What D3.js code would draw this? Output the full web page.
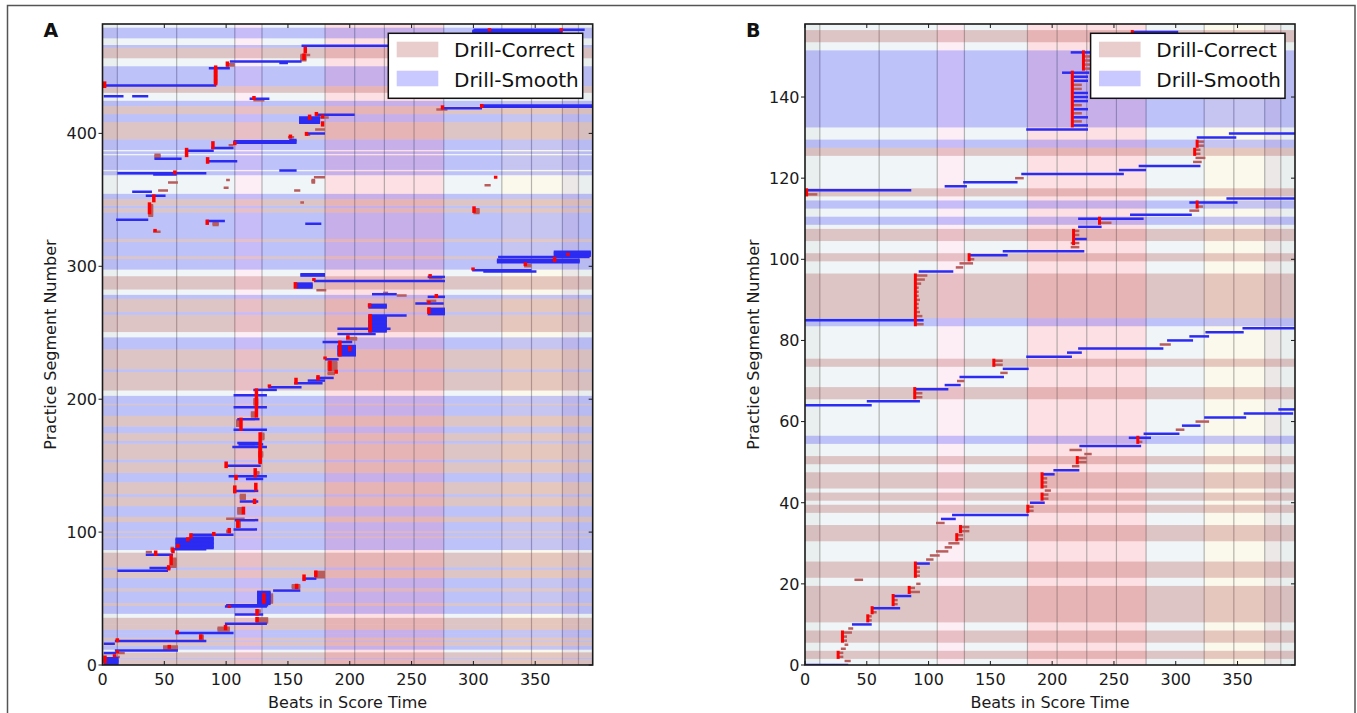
<!DOCTYPE html>
<html><head><meta charset="utf-8">
<script src="https://cdn.jsdelivr.net/npm/d3@7"></script>
<style>
body{margin:0;background:#fff;}
svg{display:block;}
text{font-family:"DejaVu Sans",sans-serif;}
</style>
</head><body>
<svg id="fig" width="1357" height="713"></svg>
<script>
// ---------- shared axis data ----------
const beatTicks = [0, 50, 100, 150, 200, 250, 300, 350];
const beatMax = 396.5;
// section boundaries of the score, in beats
const sectionBeats = [12, 60, 107, 129, 180, 204, 228, 252, 276, 323, 347, 372, 385];
// per-section background tint ranges (beats)
const tintFrom = [0, 12, 107, 129, 180, 276, 323, 372, 385];
const tintTo   = [12, 107, 129, 180, 276, 323, 372, 385, 396.5];
const tintKind = ["g", "w", "p", "w", "r", "w", "y", "q", "g"];
const legendLabels = ["Drill-Correct", "Drill-Smooth"];

// ---------- panel A ----------
const rowsA = 482.3;
const yTicksA = [0, 100, 200, 300, 400];
// practice-mode bands: [firstSegment, lastSegment, mode]  c = Drill-Correct, s = Drill-Smooth
const bandsA = [
  [0,4,"c"],[5,5,"s"],[6,9,"c"],[12,14,"s"],[15,17,"c"],[18,18,"s"],[19,20,"c"],[21,23,"s"],[24,26,"s"],
  [27,30,"c"],[31,35,"c"],[39,44,"s"],[45,46,"c"],[47,55,"s"],[56,57,"c"],[58,65,"s"],[66,71,"c"],
  [72,73,"s"],[74,84,"c"],[87,95,"s"],[96,96,"c"],[97,99,"s"],[100,100,"c"],[101,107,"s"],[108,111,"c"],
  [112,119,"s"],[120,126,"c"],[127,128,"s"],[129,137,"c"],[138,144,"s"],[145,152,"c"],[153,154,"s"],
  [155,166,"c"],[167,168,"s"],[169,174,"c"],[175,179,"s"],[180,187,"c"],[188,195,"s"],[196,196,"c"],
  [197,202,"s"],[207,220,"c"],[221,222,"s"],[223,237,"c"],[238,246,"s"],[251,263,"c"],[264,265,"s"],
  [266,275,"c"],[276,278,"s"],[283,292,"c"],[298,305,"s"],[306,307,"c"],[308,318,"s"],[319,320,"c"],
  [321,340,"s"],[341,343,"c"],[344,345,"s"],[346,350,"c"],[351,354,"s"],[369,371,"s"],[373,375,"s"],
  [376,383,"s"],[385,386,"s"],[388,395,"s"],[396,408,"c"],[409,414,"s"],[415,420,"c"],[421,424,"s"],
  [431,435,"c"],[436,450,"s"],[457,464,"c"],[465,466,"s"],[472,475,"s"],[476,479,"s"]
];
// practice segments: [firstSegment, lastSegment, startBeat, endBeat, kind]  b = played through, r = short repair
const segsA = [
  [1,5,1,13,"b"],[6,6,9,14,"r"],[9,9,1,11,"b"],[9,9,11,18,"r"],[11,11,10,61,"b"],[12,14,49,61,"r"],
  [16,16,1,10,"b"],[18,18,10,84,"b"],[19,22,78,82,"r"],[24,24,59,106,"b"],[26,28,93,103,"r"],
  [31,31,99,133,"b"],[32,35,124,134,"r"],[38,38,107,130,"b"],[40,41,124,128,"r"],[44,44,99,133,"b"],
  [45,45,100,134,"b"],[46,55,125,136,"b"],[47,53,131,138,"r"],[56,56,138,160,"b"],[58,60,153,160,"r"],
  [65,65,162,173,"b"],[66,70,172,180,"r"],[71,71,12,53,"b"],[73,73,38,55,"b"],[74,80,55,60,"r"],
  [83,83,35,57,"b"],[85,85,35,40,"r"],[86,88,55,58,"r"],[87,87,58,84,"b"],[88,95,59,90,"b"],
  [96,96,72,90,"b"],[98,98,71,106,"b"],[100,101,100,104,"r"],[102,102,106,125,"b"],[104,108,108,112,"r"],
  [109,109,107,126,"b"],[110,110,100,115,"r"],[114,118,109,113,"r"],[123,123,111,126,"b"],
  [125,128,111,116,"r"],[131,131,106,126,"b"],[140,140,116,130,"b"],[142,142,102,133,"b"],
  [144,145,123,127,"r"],[150,150,99,128,"b"],[157,160,126,130,"r"],[164,164,105,133,"b"],
  [166,166,110,130,"b"],[167,167,109,127,"b"],[170,174,127,131,"r"],[177,177,106,133,"b"],
  [180,184,108,112,"r"],[185,185,109,127,"b"],[187,190,120,124,"r"],[194,194,106,133,"b"],
  [196,200,122,126,"r"],[203,203,106,133,"b"],[207,207,122,141,"b"],[209,209,134,161,"b"],
  [212,212,155,178,"b"],[214,214,166,180,"b"],[216,216,173,187,"b"],[219,220,182,188,"r"],
  [222,228,182,190,"r"],[230,230,180,191,"b"],[233,240,190,205,"b"],[243,243,178,202,"b"],
  [245,246,197,206,"r"],[249,249,190,221,"b"],[251,262,215,230,"b"],[253,253,190,233,"b"],
  [263,263,215,246,"b"],[264,268,263,277,"b"],[269,271,215,230,"b"],[272,272,253,276,"b"],
  [274,274,262,270,"r"],[277,277,263,277,"b"],[278,278,238,246,"r"],[279,279,218,238,"b"],
  [280,280,227,231,"r"],[282,282,173,181,"r"],[284,287,157,170,"b"],[285,286,160,165,"r"],
  [289,289,171,277,"b"],[291,291,264,275,"r"],[292,292,263,277,"b"],[293,294,160,180,"b"],
  [296,296,308,351,"b"],[297,297,299,347,"b"],[300,301,341,347,"r"],[303,305,319,386,"b"],
  [307,307,320,394,"b"],[308,311,365,395,"b"],
  [326,326,41,47,"r"],[331,333,89,94,"r"],[332,332,164,177,"b"],[334,334,84,99,"b"],[335,335,11,37,"b"],
  [338,346,37,41,"r"],[340,343,300,305,"r"],[348,348,160,163,"r"],[353,353,35,51,"b"],[356,356,24,40,"b"],
  [357,357,45,53,"r"],[357,357,155,160,"r"],[359,359,98,102,"r"],[361,361,309,314,"r"],[363,363,53,61,"r"],
  [363,365,169,172,"r"],[365,365,100,103,"r"],[367,367,171,180,"r"],[369,369,41,60,"b"],[370,370,12,84,"b"],
  [372,372,143,157,"b"],[379,379,84,109,"b"],[381,381,42,64,"b"],[382,384,42,47,"r"],[387,387,67,90,"b"],
  [389,389,88,106,"b"],[391,391,102,106,"r"],[393,394,106,157,"b"],[395,395,151,157,"b"],[397,397,150,155,"r"],
  [399,399,165,168,"r"],[400,400,164,180,"b"],[403,403,172,180,"r"],[408,412,159,176,"b"],[412,412,172,183,"r"],
  [414,414,173,204,"b"],[418,418,270,279,"r"],[419,419,274,307,"b"],[420,421,307,397,"b"],
  [425,425,122,131,"r"],[426,426,119,135,"b"],[428,428,1,17,"b"],[428,428,24,37,"b"],[436,436,1,92,"b"],
  [438,448,90,93,"r"],[449,449,86,103,"b"],[451,452,100,107,"r"],[453,453,143,150,"b"],[454,454,103,161,"b"],
  [455,458,160,165,"r"],[459,459,160,168,"r"],[466,466,161,232,"b"],[476,477,299,372,"b"],[478,478,300,390,"b"]
];
// restart markers: [firstSegment, lastSegment, beat]
const marksA = [
  [1,6,1],[6,7,8.7],[9,10,11],[12,14,53],[17,19,11],[19,22,78.5],[23,25,59.4],[26,29,98.5],[32,35,124],
  [37,41,124],[43,44,101.5],[46,53,129.5],[57,60,156],[63,67,162],[66,70,171.5],[71,74,52.5],[75,82,54.5],
  [82,85,42],[84,87,56],[88,90,60],[93,95,68],[95,98,70.5],[97,99,89],[99,102,101.5],[103,108,108.5],
  [113,118,113],[121,124,122],[129,134,106],[131,136,123],[139,142,107],[141,147,122.5],[148,152,99],
  [151,162,126.5],[152,174,126.5],[176,185,111],[186,207,123.5],[209,210,134],[211,215,155.5],
  [214,217,173.3],[219,221,188],[221,228,183],[230,231,179],[232,243,191],[236,239,199],[245,247,197.5],
  [250,263,215.5],[264,268,263],[269,271,215],[272,273,263],[276,278,269],[283,287,155],[289,290,170],
  [292,293,264],[297,298,298.7],[300,302,341],[303,306,364.7],[308,309,375.5],
  [326,327,41.5],[331,334,83.7],[339,347,37],[340,344,299.5],[348,353,40.5],[366,367,317],[369,371,57.5],
  [377,381,84],[382,388,67],[388,393,88.3],[391,393,106],[396,398,151],[398,400,164],[405,408,177],
  [410,413,166.5],[411,413,177],[413,415,172],[418,420,274],[419,421,305.7],[425,427,121.5],[434,438,0.7],
  [436,450,90.5],[450,453,100],[455,459,162],[460,464,163],[477,478,312],[477,478,370]
];

// ---------- panel B ----------
const rowsB = 158;
const yTicksB = [0, 20, 40, 60, 80, 100, 120, 140];
const bandsB = [
  [2,3,"c"],[6,8,"c"],[11,19,"c"],[22,25,"c"],[31,34,"c"],[38,39,"c"],[41,42,"c"],[44,47,"c"],
  [50,51,"c"],[55,56,"s"],[66,68,"c"],[74,75,"c"],[84,85,"s"],[86,96,"c"],[100,101,"c"],
  [105,107,"c"],[109,110,"s"],[113,114,"s"],[116,117,"c"],[126,127,"c"],[128,129,"s"],
  [133,151,"s"],[154,156,"c"]
];
const segsB = [
  [0,0,0,35,"b"],[1,1,32,37,"r"],[2,3,27,31,"r"],[4,4,29,33,"r"],[5,5,32,35,"r"],[6,7,30,34,"r"],
  [8,8,30,38,"r"],[9,9,35,39,"r"],[10,10,38,54,"b"],[11,12,50,54,"r"],[13,13,54,58,"r"],[14,14,54,77,"b"],
  [15,16,71,75,"r"],[17,17,71,86,"b"],[18,18,84,93,"r"],[19,19,84,89,"r"],[20,20,90,93.5,"r"],
  [21,21,40,47,"r"],[22,24,89,93,"r"],[25,25,89,101,"b"],[26,26,98,104,"r"],[27,27,101,109,"r"],
  [28,28,106,116,"r"],[29,29,113,119,"r"],[30,30,116,125,"r"],[31,32,122,128,"r"],[33,34,125,133,"r"],
  [35,35,106,113,"r"],[36,36,110,122,"b"],[37,37,119,181,"b"],[38,39,180,185,"r"],[40,40,182,194,"b"],
  [41,42,192,197,"r"],[43,43,194,199,"r"],[44,46,192,196,"r"],[47,47,192,202,"b"],[48,48,201,222,"b"],
  [49,49,216,222,"r"],[50,51,220,228,"r"],[52,52,226,232,"r"],[53,53,214,224,"r"],[54,54,222,272,"b"],
  [55,55,269,273,"r"],[56,56,262,280,"b"],[57,57,274,303,"b"],[58,58,300,307,"r"],[59,59,305,320,"b"],
  [60,60,316,327,"r"],[61,61,323,357,"b"],[62,62,355,395,"b"],[63,63,383,397,"b"],[64,64,0,54,"b"],
  [65,65,50,93,"b"],[66,67,88,95,"r"],[68,68,89,116,"b"],[69,69,113,126,"b"],[70,70,123,129,"r"],
  [71,71,125,161,"b"],[72,72,158,164,"r"],[73,73,160,181,"b"],[74,75,152,160,"r"],[76,76,179,216,"b"],
  [77,77,212,224,"b"],[78,78,221,290,"b"],[79,79,287,296,"r"],[80,80,293,314,"b"],[81,81,311,327,"b"],
  [82,82,324,355,"b"],[83,83,354,397,"b"],[84,84,89,96,"r"],[85,85,0,96,"b"],[86,86,89,95,"r"],
  [87,87,89,93,"r"],[88,89,89,92,"r"],[90,90,89,93,"r"],[91,93,89,92,"r"],[94,94,89,94,"r"],
  [95,95,89,97,"r"],[96,96,89,99,"r"],[97,97,92,120,"b"],[98,98,122,128,"r"],[99,99,125,136,"r"],
  [100,100,133,137,"r"],[101,101,133,164,"b"],[102,102,160,226,"b"],[103,104,215,222,"r"],
  [105,105,217,228,"b"],[106,107,217,222,"r"],[108,108,221,240,"b"],[109,109,238,248,"r"],
  [110,110,221,274,"b"],[111,111,263,313,"b"],[112,112,311,319,"r"],[113,113,317,322,"r"],
  [114,114,311,350,"b"],[115,115,341,397,"b"],[116,116,1,10,"r"],[117,117,1,86,"b"],[118,118,113,131,"b"],
  [119,119,128,172,"b"],[120,120,170,177,"r"],[121,121,175,258,"b"],[122,122,254,276,"b"],
  [123,123,270,320,"b"],[124,124,314,321,"r"],[125,125,316,324,"r"],[126,127,315,320,"r"],
  [128,129,317,323,"r"],[130,130,317,349,"b"],[131,131,343,397,"b"],[132,132,179,229,"b"],
  [133,133,217,229,"b"],[134,134,217,224,"r"],[135,135,217,229,"b"],[136,136,217,224,"r"],
  [137,137,217,229,"b"],[138,138,217,224,"r"],[139,141,217,229,"b"],[142,143,217,224,"r"],
  [144,145,217,229,"b"],[146,146,208,230,"b"],[147,150,226,232,"r"],[151,151,215,231,"b"],
  [156,156,264,302,"b"]
];
const marksB = [
  [2,3,26],[6,8,29.5],[11,12,50],[13,14,53.5],[15,17,70.5],[18,19,83.5],[22,25,88.5],[31,32,122],
  [33,34,125],[38,39,179.5],[41,42,191],[44,47,191],[50,51,219.5],[55,56,268.5],[66,68,88],[74,75,152],
  [84,96,88.5],[100,101,132],[104,107,216.5],[109,110,237.5],[113,114,316.5],[116,117,0.5],
  [126,127,314.5],[128,129,316.5],[133,146,215.5],[147,151,224.5],[156,156,264]
];

// ---------- styling ----------
const tintColour = {g:"#e9eeee", w:"#f0f6f8", p:"#fdeef6", r:"#fde0e3", y:"#fbf9ec", q:"#ede8e8"};
const bandColour = {c:"#a52a2a", s:"#0000ff"};
const bandAlpha = {c:0.24, s:0.21};
const segColour = {b:"#2b2bf2", r:"#b85c5c"};

const svg = d3.select("#fig");

// outer figure frame
svg.append("rect").attr("x",7.5).attr("y",5.5).attr("width",1347.5).attr("height",720)
  .attr("fill","none").attr("stroke","#555").attr("stroke-width",1.5);

function drawPanel(cfg){
  const {left,right,top,bottom,rows,yTicks,bands,segs,marks,letter,clipId,markW} = cfg;
  const x = d3.scaleLinear().domain([0,beatMax]).range([left,right]);
  const y = d3.scaleLinear().domain([0,rows]).range([bottom,top]);
  const g = svg.append("g");
  g.append("clipPath").attr("id",clipId).append("rect")
    .attr("x",left).attr("y",top).attr("width",right-left).attr("height",bottom-top);
  const plot = g.append("g").attr("clip-path",`url(#${clipId})`);

  // section tints
  plot.selectAll("rect.tint").data(tintFrom.map((f,i)=>({f,t:tintTo[i],k:tintKind[i]})))
    .join("rect").attr("class","tint")
    .attr("x",d=>x(d.f)).attr("width",d=>x(d.t)-x(d.f))
    .attr("y",top).attr("height",bottom-top).attr("fill",d=>tintColour[d.k]);

  // section rules
  plot.selectAll("line.sec").data(sectionBeats).join("line").attr("class","sec")
    .attr("x1",d=>x(d)).attr("x2",d=>x(d)).attr("y1",top).attr("y2",bottom)
    .attr("stroke","#7a7a7a").attr("stroke-opacity",0.55).attr("stroke-width",1.2);

  // practice-mode bands
  plot.selectAll("rect.band").data(bands).join("rect").attr("class","band")
    .attr("x",left).attr("width",right-left)
    .attr("y",d=>y(d[1]+0.5)).attr("height",d=>y(d[0]-0.5)-y(d[1]+0.5))
    .attr("fill",d=>bandColour[d[2]]).attr("fill-opacity",d=>bandAlpha[d[2]]);

  // segments, one line per practice segment in each record's range;
  // repairs first, then played-through passages on top
  const lw = 2.5;
  const perRow = segs.flatMap(d=>d3.range(d[0], d[1]+1).map(r=>({r, s:d[2], e:d[3], k:d[4]})));
  const ordered = perRow.filter(d=>d.k==="r").concat(perRow.filter(d=>d.k==="b"));
  plot.selectAll("line.seg").data(ordered).join("line").attr("class","seg")
    .attr("x1",d=>x(d.s)).attr("x2",d=>x(d.e))
    .attr("y1",d=>y(d.r)).attr("y2",d=>y(d.r))
    .attr("stroke",d=>segColour[d.k]).attr("stroke-width",lw);

  // restart markers
  plot.selectAll("rect.mark").data(marks).join("rect").attr("class","mark")
    .attr("x",d=>x(d[2])-0.5).attr("width",markW)
    .attr("y",d=>Math.min(y(d[1]+0.5), y(d[1])-1.5))
    .attr("height",d=>Math.max(y(d[0]-0.5)-y(d[1]+0.5),3))
    .attr("fill","#f00");

  // frame
  g.append("rect").attr("x",left).attr("y",top).attr("width",right-left).attr("height",bottom-top)
    .attr("fill","none").attr("stroke","#1a1a1a").attr("stroke-width",1.6);

  // x ticks (inward, top and bottom)
  beatTicks.forEach(t=>{
    g.append("line").attr("x1",x(t)).attr("x2",x(t)).attr("y1",bottom).attr("y2",bottom-4).attr("stroke","#1a1a1a");
    g.append("line").attr("x1",x(t)).attr("x2",x(t)).attr("y1",top).attr("y2",top+4).attr("stroke","#1a1a1a");
    g.append("text").attr("x",x(t)).attr("y",bottom+20).attr("text-anchor","middle")
      .attr("font-size",16).attr("fill","#1a1a1a").text(t);
  });
  // y ticks
  yTicks.forEach(t=>{
    g.append("line").attr("x1",left-4).attr("x2",left).attr("y1",y(t)).attr("y2",y(t)).attr("stroke","#1a1a1a");
    g.append("line").attr("x1",right-4).attr("x2",right).attr("y1",y(t)).attr("y2",y(t)).attr("stroke","#1a1a1a");
    g.append("text").attr("x",left-5.5).attr("y",y(t)+5.8).attr("text-anchor","end")
      .attr("font-size",16).attr("fill","#1a1a1a").text(t);
  });

  // axis titles
  g.append("text").attr("x",(left+right)/2).attr("y",708).attr("text-anchor","middle")
    .attr("font-size",16).attr("fill","#1a1a1a").text("Beats in Score Time");
  g.append("text").attr("transform",`translate(${left-46.5},${(top+bottom)/2}) rotate(-90)`)
    .attr("text-anchor","middle").attr("font-size",16).attr("fill","#1a1a1a").text("Practice Segment Number");

  // panel letter
  g.append("text").attr("x",left-59).attr("y",37).attr("font-family","'Liberation Sans',Arial,sans-serif")
    .attr("font-weight","bold").attr("font-size",19).attr("fill","#111").text(letter);

  // legend
  const lx = right-204.4, ly = top+9.3;
  const lg = g.append("g");
  lg.append("rect").attr("x",lx).attr("y",ly).attr("width",194.4).attr("height",65)
    .attr("fill","#fff").attr("stroke","#111").attr("stroke-width",1.5);
  ["c","s"].forEach((k,i)=>{
    lg.append("rect").attr("x",lx+8.4).attr("y",ly+8.4+i*29).attr("width",41.6).attr("height",15.6)
      .attr("fill",bandColour[k]).attr("fill-opacity",bandAlpha[k]);
    lg.append("text").attr("x",lx+65.7).attr("y",ly+24+i*29.4).attr("font-size",20)
      .attr("fill","#111").text(legendLabels[i]);
  });
}

drawPanel({left:102.5,right:592.7,top:24,bottom:665,rows:rowsA,yTicks:yTicksA,
  bands:bandsA,segs:segsA,marks:marksA,letter:"A",clipId:"clipA",markW:3.5});
drawPanel({left:805,right:1295,top:24,bottom:665,rows:rowsB,yTicks:yTicksB,
  bands:bandsB,segs:segsB,marks:marksB,letter:"B",clipId:"clipB",markW:3});
</script>
</body></html>
